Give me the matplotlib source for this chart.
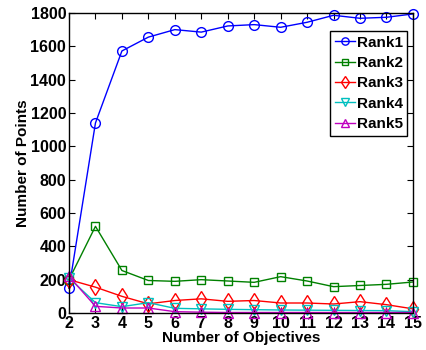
import matplotlib
matplotlib.use("Agg")
import matplotlib.pyplot as plt

objectives = [2, 3, 4, 5, 6, 7, 8, 9, 10, 11, 12, 13, 14, 15]
rank1 = [148, 1140, 1572, 1655, 1700, 1685, 1722, 1730, 1714, 1744, 1786, 1768, 1774, 1794]
rank2 = [200, 520, 255, 195, 190, 200, 192, 184, 218, 192, 158, 165, 172, 186]
rank3 = [200, 155, 100, 55, 75, 85, 70, 75, 60, 60, 54, 68, 50, 25]
rank4 = [210, 62, 38, 62, 28, 25, 22, 20, 18, 17, 16, 15, 14, 8]
rank5 = [220, 40, 30, 30, 8, 5, 3, 3, 3, 3, 3, 3, 3, 3]
labels = ["Rank1", "Rank2", "Rank3", "Rank4", "Rank5"]
yticks = list(range(0, 1801, 200))

plt.rcParams['font.family'] = ['Liberation Sans', 'DejaVu Sans']
plt.rcParams['font.weight'] = 'bold'

fig = plt.figure(figsize=(4.27, 3.5), dpi=100)
ax = fig.add_axes([0.1616, 0.1057, 0.8054, 0.8573])

series = [rank1, rank2, rank3, rank4, rank5]
colors = ['#0000ff', '#008000', '#ff0000', '#00bfbf', '#bf00bf']
markers = ['o', 's', 'd', 'v', '^']
msizes = [7, 6, 8.5, 7, 7]
for s, c, m, ms, lab in zip(series, colors, markers, msizes, labels):
    ax.plot(objectives, s, color=c, marker=m, markersize=ms,
            markerfacecolor='none', markeredgecolor=c, markeredgewidth=1.0,
            linewidth=1.0, label=lab, clip_on=False)

ax.set_xlim(2, 15)
ax.set_ylim(0, 1800)
ax.set_xticks(objectives)
ax.set_yticks(yticks)
ax.tick_params(direction='in', top=True, right=True, length=4, width=0.8,
               labelsize=11.5, pad=2)
for lab in ax.get_xticklabels() + ax.get_yticklabels():
    lab.set_fontweight('bold')
for sp in ax.spines.values():
    sp.set_linewidth(1.0)

ax.set_xlabel("Number of Objectives", fontsize=11, fontweight='bold', labelpad=0.5)
ax.set_ylabel("Number of Points", fontsize=11, fontweight='bold', labelpad=0.5)

leg = ax.legend(loc='upper right', bbox_to_anchor=(0.984, 0.94), fontsize=11,
                markerscale=0.75, handlelength=1.3, handletextpad=0.15,
                borderpad=0.3, labelspacing=0.42, fancybox=False,
                edgecolor='black', framealpha=1, borderaxespad=0)
leg.get_frame().set_linewidth(1.0)
for t in leg.get_texts():
    t.set_fontweight('bold')

fig.savefig("out.png", dpi=100)
